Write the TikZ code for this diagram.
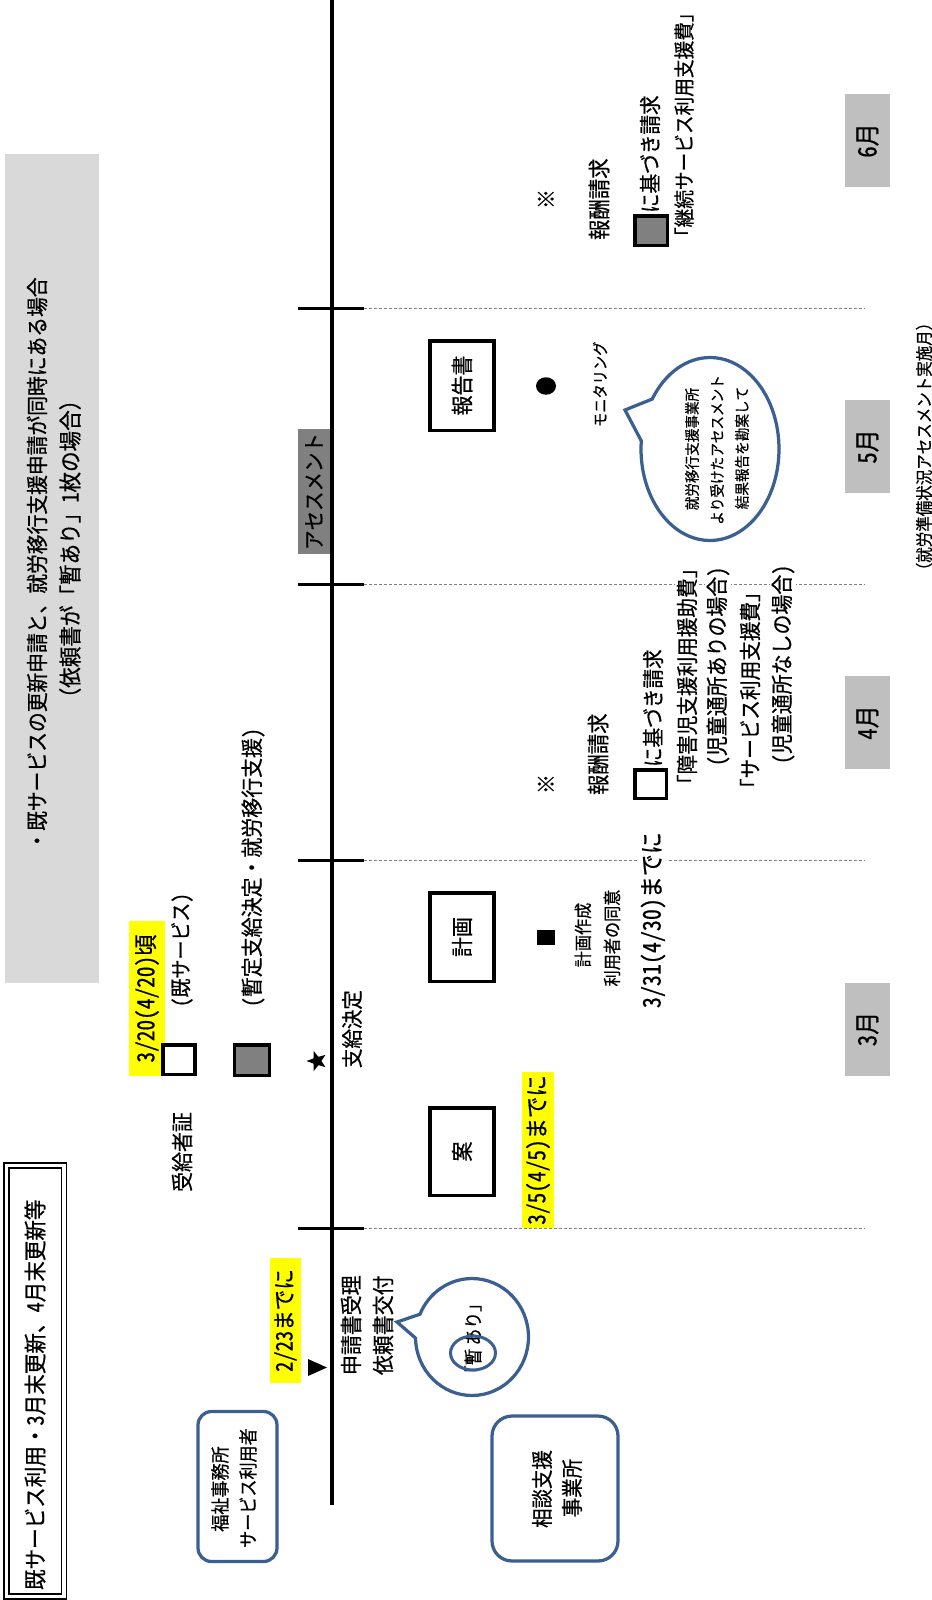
\documentclass[tikz,border=0pt]{standalone}
\usepackage{fontspec}
\usetikzlibrary{shapes.geometric,shapes.callouts}
\newfontfamily\jp[FakeStretch=0.9,FakeBold=0.6]{Noto Sans Mono CJK JP}
\definecolor{edgeblue}{RGB}{59,95,145}
\definecolor{titlegray}{RGB}{217,217,217}
\definecolor{monthgray}{RGB}{191,191,191}
\definecolor{midgray}{RGB}{128,128,128}
\definecolor{hlyellow}{RGB}{255,255,0}
\begin{document}
\begin{tikzpicture}[x=0.02cm,y=-0.02cm,
  every node/.style={inner sep=0pt,outer sep=0pt},
  fsz/.style={font=\jp\fontsize{#1}{#1}\selectfont},
  vtext/.style={rotate=90},
  vstart/.style={rotate=90,anchor=west},
  tickline/.style={line width=0.06cm},
  guide/.style={draw=midgray,line width=0.02cm,dash pattern=on 0.06cm off 0.04cm},
  docbox/.style={draw,line width=0.07cm,fill=white,rotate=90,minimum height=1.29cm,fsz=12.6pt},
  monthbox/.style={rotate=90,fill=monthgray,minimum width=1.86cm,minimum height=0.9cm,fsz=14.5pt},
  hlbox/.style={rotate=90,fill=hlyellow},
  sqbox/.style={draw,line width=0.07cm},
  bluebox/.style={draw=edgeblue,line width=0.065cm,fill=white},
  bubble/.style={ellipse callout,draw=edgeblue,line width=0.065cm,fill=white},
  whitebg/.style={fill=white,inner sep=0.04cm},
]
\useasboundingbox (0,0) rectangle (932,1600);

% ---- top title
\node[rotate=90,fill=titlegray,minimum width=16.58cm,minimum height=1.88cm] (titlebg) at (52,568.5) {};
\node[vtext,fsz=12.5pt] (title1) at (37,564) {・既サービスの更新申請と、就労移行支援申請が同時にある場合};
\node[vtext,fsz=13pt] (title2) at (70,549) {（依頼書が「暫あり」1枚の場合）};

% ---- bottom title frame
\node[draw,double,double distance=0.07cm,line width=0.03cm,rotate=90,minimum width=8.62cm,minimum height=1.15cm] (titleframe) at (35.3,1381) {};
\node[vstart,fsz=13pt] (titlemain) at (35,1590) {既サービス利用・3月末更新、4月末更新等};

% ---- ticks and guide lines
\foreach \yy/\nm in {308/a,584/b,860/c,1228/d}{
  \coordinate (tl\nm) at (298,\yy);
  \coordinate (tm\nm) at (364,\yy);
  \coordinate (tr\nm) at (865,\yy);
  \draw[tickline] (tl\nm) -- (tm\nm);
  \draw[guide] (tm\nm) -- (tr\nm);
}

% ---- assessment box
\node[rotate=90,fill=midgray,minimum width=2.5cm,minimum height=0.64cm,fsz=12.3pt] (assess) at (314,491.5) {アセスメント};

% ---- timeline
\coordinate (tltop) at (332,0);
\coordinate (tlbot) at (332,1505);
\draw[line width=0.08cm] (tltop) -- (tlbot);

% ---- months
\node[monthbox] (m3) at (867.5,1029) {3月};
\node[monthbox] (m4) at (867.5,722.5) {4月};
\node[monthbox] (m5) at (867.5,446.5) {5月};
\node[monthbox] (m6) at (867.5,140.5) {6月};
\node[vtext,fsz=9.8pt] (note) at (924,446.5) {（就労準備状況アセスメント実施月）};

% ---- left boxes
\node[bluebox,rounded corners=0.27cm,minimum width=1.58cm,minimum height=3.0cm] (welfare) at (237.5,1486.5) {};
\node[vtext,fsz=10.8pt] (welfare1) at (220,1489) {福祉事務所};
\node[vtext,fsz=10.8pt] (welfare2) at (248,1488) {サービス利用者};
\node[bluebox,rounded corners=0.4cm,minimum width=2.52cm,minimum height=2.9cm] (soudan) at (555,1488.5) {};
\node[vtext,fsz=12.3pt] (soudan1) at (542,1489) {相談支援};
\node[vtext,fsz=12.3pt] (soudan2) at (572,1488) {事業所};

% ---- application
\node[hlbox,minimum width=2.5cm,minimum height=0.62cm,fsz=13pt] (d223) at (285.5,1320.5) {2/23までに};
\fill (308,1359) -- (308,1376) -- (327,1367.5) -- cycle;
\node[vstart,fsz=12.6pt] (recv) at (351,1375) {申請書受理};
\node[vstart,fsz=12.6pt] (issue) at (383,1375) {依頼書交付};
\node[bubble,minimum width=2.26cm,minimum height=2.34cm,callout absolute pointer={(397,1322)},callout pointer arc=24] (bub1) at (472,1337) {};
\node[vstart,fsz=10.6pt] (zanari) at (473,1382) {「暫\,あり」};
\node[ellipse,draw=edgeblue,line width=0.06cm,minimum width=0.9cm,minimum height=0.68cm] (zancirc) at (473,1353) {};

% ---- certificate
\node[vtext,fsz=12.6pt] (jukyu) at (182,1152) {受給者証};
\node[hlbox,minimum width=3.1cm,minimum height=0.72cm,fsz=13.5pt] (d320) at (147,998.5) {3/20(4/20)頃};
\node[sqbox,fill=white,minimum width=0.65cm,minimum height=0.59cm] (sqw1) at (179,1059.5) {};
\node[vstart,fsz=12pt] (kisvc) at (182,1007) {(既サービス)};
\node[sqbox,fill=midgray,minimum width=0.71cm,minimum height=0.61cm] (sqg1) at (252,1060) {};
\node[vstart,fsz=12.6pt] (zantei) at (253,1007) {(暫定支給決定・就労移行支援)};
\node[star,star points=5,star point ratio=2.4,fill=black,minimum size=0.42cm,rotate=90] (star) at (317,1061) {};
\node[vstart,fsz=12.3pt] (shikyu) at (352,1068) {支給決定};

% ---- plan
\node[docbox,minimum width=1.75cm] (an) at (462,1151.5) {案};
\node[docbox,minimum width=1.77cm] (keikaku) at (462,937) {計画};
\node[docbox,minimum width=1.79cm] (houkoku) at (462,385.5) {報告書};
\node[hlbox,minimum width=3.12cm,minimum height=0.64cm,fsz=13.5pt] (d35) at (538,1150) {3/5(4/5)までに};
\node[fill=black,minimum width=0.36cm,minimum height=0.3cm] (blsq) at (546,937) {};
\node[vtext,fsz=10.2pt] (plan1) at (583,935) {計画作成};
\node[vtext,fsz=10.2pt] (plan2) at (612,938) {利用者の同意};
\node[vstart,whitebg,fsz=13.9pt] (d331) at (653,1010) {3/31(4/30)までに};

% ---- April claim
\node[vtext,fsz=12.6pt] (kome1) at (546,784) {※};
\node[vstart,fsz=12.9pt] (fee1) at (598,795) {報酬請求};
\node[sqbox,fill=white,minimum width=0.63cm,minimum height=0.57cm] (sqw2) at (650.5,784) {};
\node[vstart,fsz=12.4pt] (base1) at (653,767) {に基づき請求};
\node[vstart,whitebg,fsz=12.4pt] (line1) at (687,796) {「障害児支援利用援助費」};
\node[vstart,whitebg,fsz=12.6pt] (line2) at (718,768) {(児童通所ありの場合)};
\node[vstart,fsz=12.4pt] (line3) at (750,798) {「サービス利用支援費」};
\node[vstart,whitebg,fsz=12.6pt] (line4) at (783,766) {(児童通所なしの場合)};

% ---- May monitoring
\node[ellipse,fill=black,minimum width=0.4cm,minimum height=0.35cm] (dot) at (546,386) {};
\node[vstart,fsz=9pt] (moni) at (600,427) {モニタリング};
\node[bubble,minimum width=2.76cm,minimum height=3.66cm,callout absolute pointer={(625,410)},callout pointer arc=28] (bub2) at (710,449) {};
\node[vtext,fsz=8.6pt] (bt1) at (692,449) {就労移行支援事業所};
\node[vtext,fsz=8.6pt] (bt2) at (717,450) {より受けたアセスメント};
\node[vtext,fsz=8.6pt] (bt3) at (742,448) {結果報告を勘案して};

% ---- June claim
\node[vtext,fsz=12.6pt] (kome2) at (546,199) {※};
\node[vstart,fsz=12.9pt] (fee2) at (599,240) {報酬請求};
\node[sqbox,fill=midgray,minimum width=0.65cm,minimum height=0.59cm] (sqg2) at (651,230.5) {};
\node[vstart,fsz=12.4pt] (base2) at (650,213) {に基づき請求};
\node[vstart,fsz=11.8pt] (line5) at (684,246) {「継続サービス利用支援費」};
\end{tikzpicture}
\end{document}
